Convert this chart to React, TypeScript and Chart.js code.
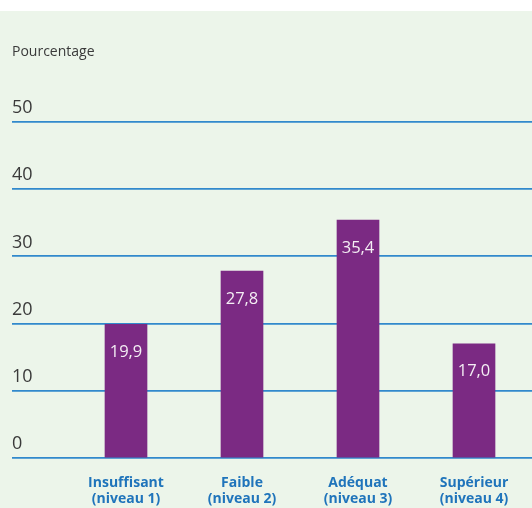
import React, { useEffect, useRef } from "react";
import { Chart, registerables } from "chart.js";

Chart.register(...registerables);

const categories: string[][] = [
  ["Insuffisant", "(niveau 1)"],
  ["Faible", "(niveau 2)"],
  ["Adéquat", "(niveau 3)"],
  ["Supérieur", "(niveau 4)"],
];
const values: number[] = [19.9, 27.8, 35.4, 17.0];
const yTicks: number[] = [0, 10, 20, 30, 40, 50];
const yTitle = "Pourcentage";

const PURPLE = "#7b2a83";
const BLUE = "#1f74bb";
const GRID = "#3189cc";
const BG = "#ecf5ea";
const TEXT = "#3a3a3a";

const valueLabels = {
  id: "valueLabels",
  afterDatasetsDraw(chart: any) {
    const { ctx } = chart;
    const meta = chart.getDatasetMeta(0);
    ctx.save();
    ctx.fillStyle = "#f4eef4";
    ctx.font = "16.5px 'Open Sans'";
    ctx.textAlign = "center";
    ctx.textBaseline = "middle";
    meta.data.forEach((bar: any, i: number) => {
      const txt = values[i].toFixed(1).replace(".", ",");
      ctx.fillText(txt, bar.x, bar.y + 28);
    });
    ctx.restore();
  },
};

export default function App() {
  const ref = useRef<HTMLCanvasElement>(null);
  useEffect(() => {
    if (!ref.current) return;
    const chart = new Chart(ref.current, {
      type: "bar",
      data: {
        labels: categories,
        datasets: [
          {
            data: values,
            backgroundColor: PURPLE,
            barThickness: 42,
          },
        ],
      },
      options: {
        animation: false,
        responsive: false,
        maintainAspectRatio: false,
        layout: { padding: { left: 12, right: 0, top: 0, bottom: 0 } },
        plugins: {
          legend: { display: false },
          tooltip: { enabled: false },
          title: {
            display: true,
            text: yTitle,
            align: "start",
            color: TEXT,
            font: { family: "'Open Sans'", size: 14, weight: "normal" },
            padding: { top: 44, bottom: 61.2 },
          },
        },
        scales: {
          x: {
            grid: { display: false },
            border: { display: false },
            ticks: {
              color: BLUE,
              font: { family: "'Open Sans'", size: 14, weight: "bold", lineHeight: 1.15 },
              padding: 9,
              maxRotation: 0,
            },
            afterFit: (s: any) => {
              s.height = 50;
            },
          },
          y: {
            min: 0,
            max: 50,
            afterBuildTicks: (s: any) => {
              s.ticks = yTicks.map((v) => ({ value: v }));
            },
            grid: { color: GRID, lineWidth: 1.8, tickLength: 56 },
            border: { display: false },
            ticks: {
              crossAlign: "far",
              labelOffset: -14,
              color: TEXT,
              font: { family: "'Open Sans'", size: 18 },
            },
            afterFit: (s: any) => {
              s.width = 56;
            },
          },
        },
      },
      plugins: [valueLabels],
    });
    return () => chart.destroy();
  }, []);
  return (
    <div style={{ position: "fixed", left: 0, top: 0, width: 532, height: 508, background: "#fff", overflow: "hidden" }}>
      <div style={{ position: "absolute", left: 0, top: 11, width: 532, height: 497, background: BG }} />
      <canvas ref={ref} width={532} height={508} style={{ position: "absolute", left: 0, top: 0, width: 532, height: 508 }} />
    </div>
  );
}
